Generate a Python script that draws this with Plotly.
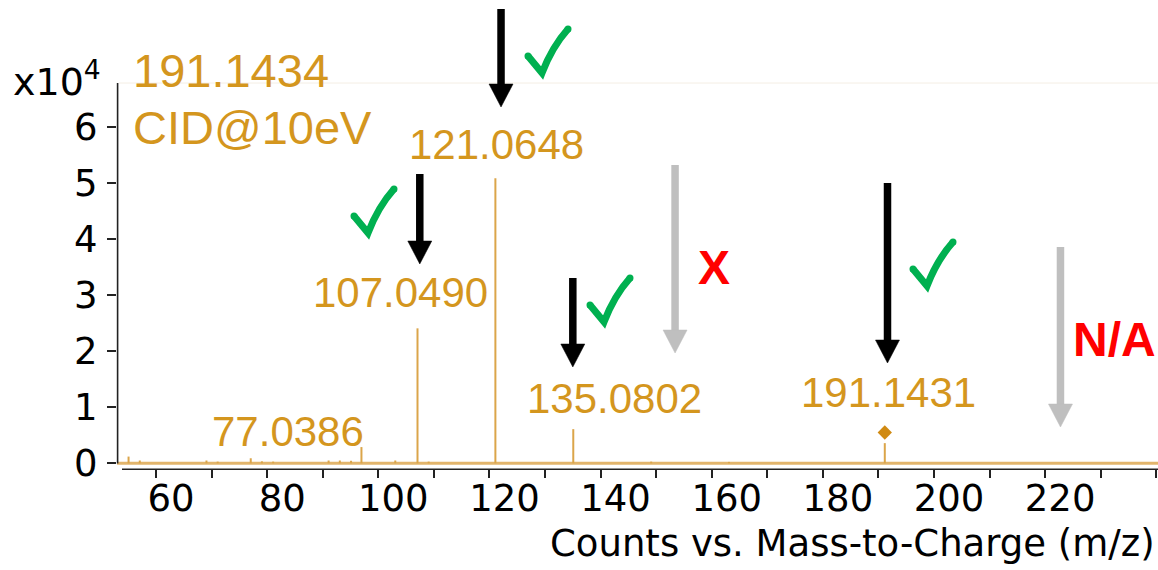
import plotly.graph_objects as go

# Product-ion spectrum of m/z 191.1434 (CID @ 10 eV)
peak_mz = [55.05, 57.07, 69.07, 71.09, 77.0386, 79.05, 81.07, 91.05, 93.07,
           95.09, 96.96, 103.05, 107.0490, 109.06, 121.0648, 135.0802,
           149.10, 163.10, 191.1431]
peak_counts = [1200, 500, 500, 300, 900, 350, 300, 500, 500,
               450, 2900, 500, 24100, 300, 50900, 6100,
               300, 250, 3600]

labeled_mz = [77.0386, 107.0490, 121.0648, 135.0802, 191.1431]
precursor_mz = [191.1431]
precursor_marker_counts = [5500]

x_tick_vals = [60, 80, 100, 120, 140, 160, 180, 200, 220]
x_tick_text = ["60", "80", "100", "120", "140", "160", "180", "200", "220"]
x_minor_vals = list(range(50, 250, 10))
y_tick_vals = [0, 10000, 20000, 30000, 40000, 50000, 60000]
y_tick_text = ["0", "1", "2", "3", "4", "5", "6"]

# fragment annotations: (target m/z, verdict)
arrow_mz = [122.08, 107.46, 135.0, 153.4, 191.63, 222.76]
arrow_kind = ["found", "found", "found", "absent", "found", "absent"]

# ---------------------------------------------------------------- layout
W, H = 1158, 570
ML, MR, MT, MB = 117, 0, 83, 101
PW, PH = W - ML - MR, H - MT - MB
X_RANGE = [52.97, 240.31]
Y_RANGE = [-1018, 67911]

GOLD = "#D4961E"
STICK = "#DBA54A"


def px(xp):
    return (xp - ML) / PW


def py(yp):
    return (H - MB - yp) / PH


def mz_to_paper(m):
    return (m - X_RANGE[0]) / (X_RANGE[1] - X_RANGE[0])


fig = go.Figure()

# spectrum baseline + centroid sticks
xs, ys = [X_RANGE[0], X_RANGE[1], None], [0, 0, None]
fig.add_trace(go.Scatter(x=xs, y=ys, mode="lines",
                         line=dict(color="#E2B56C", width=3),
                         hoverinfo="skip", showlegend=False))
sx, sy = [], []
for m, c in zip(peak_mz, peak_counts):
    sx += [m, m, None]
    sy += [0, c, None]
fig.add_trace(go.Scatter(x=sx, y=sy, mode="lines",
                         line=dict(color=STICK, width=2),
                         hoverinfo="skip", showlegend=False))

# precursor marker
fig.add_trace(go.Scatter(x=precursor_mz, y=precursor_marker_counts, mode="markers",
                         marker=dict(symbol="diamond", size=11, color="#D08A12"),
                         hoverinfo="skip", showlegend=False, cliponaxis=False))

# peak labels, offset (px) from each stick top
label_offsets = [(37.6, 26.4), (-17.0, 36.3), (1.6, 33.3), (41.7, 31.1), (3.7, 51.1)]
for m, (dx, dy) in zip(labeled_mz, label_offsets):
    c = peak_counts[peak_mz.index(m)]
    fig.add_annotation(x=m, y=c, xref="x", yref="y", text=f"{m:.4f}",
                       showarrow=False, xanchor="center", yanchor="middle",
                       xshift=dx, yshift=dy,
                       font=dict(family="Liberation Sans, Arial", size=42, color=GOLD))

shapes = []

# axis lines
shapes.append(dict(type="line", xref="paper", yref="paper",
                   x0=px(117.6), x1=px(117.6), y0=py(83), y1=py(463.5),
                   line=dict(color="#222222", width=1.6)))
shapes.append(dict(type="line", xref="paper", yref="paper",
                   x0=px(122), x1=1, y0=py(469.3), y1=py(469.3),
                   line=dict(color="#222222", width=1.6)))
# faint frame top
shapes.append(dict(type="line", xref="paper", yref="paper",
                   x0=px(119), x1=1, y0=1, y1=1,
                   line=dict(color="#F4EEE4", width=1)))

# arrows: top of shaft and tip (px)
arrow_ends = [(9, 107), (174, 264), (278, 367), (165, 353), (183, 363), (247, 427)]
colors = {"found": "#000000", "absent": "#BFBFBF"}
HEAD_L, HEAD_W = 23, 24
for m, kind, (top, tip) in zip(arrow_mz, arrow_kind, arrow_ends):
    xc = mz_to_paper(m)
    col = colors[kind]
    shapes.append(dict(type="line", xref="paper", yref="paper",
                       x0=xc, x1=xc, y0=py(top), y1=py(tip - HEAD_L + 1),
                       line=dict(color=col, width=7.5)))
    xl = xc - (HEAD_W / 2) / PW
    xr = xc + (HEAD_W / 2) / PW
    path = (f"M {xl},{py(tip - HEAD_L)} L {xr},{py(tip - HEAD_L)} "
            f"L {xc},{py(tip)} Z")
    shapes.append(dict(type="path", xref="paper", yref="paper", path=path,
                       fillcolor=col, line=dict(color=col, width=0.5)))

# check marks (top-left corner, px)
check_corners = [(527, 28), (353, 188), (589, 277), (912, 241)]
for cx, cy in check_corners:
    p0 = (px(cx + 1), py(cy + 28))
    p1 = (px(cx + 15), py(cy + 45))
    pc = (px(cx + 25), py(cy + 19))
    p2 = (px(cx + 41), py(cy + 1))
    path = (f"M {p0[0]},{p0[1]} L {p1[0]},{p1[1]} "
            f"Q {pc[0]},{pc[1]} {p2[0]},{p2[1]}")
    shapes.append(dict(type="path", xref="paper", yref="paper", path=path,
                       line=dict(color="#00B050", width=7)))
    for (qx, qy) in (p0, p2):
        r = 3.5
        shapes.append(dict(type="circle", xref="paper", yref="paper",
                           x0=qx - r / PW, x1=qx + r / PW, y0=qy - r / PH, y1=qy + r / PH,
                           fillcolor="#00B050", line=dict(width=0)))

fig.update_layout(shapes=shapes)

# text blocks
fig.add_annotation(xref="paper", yref="paper", x=px(131), y=py(70), text="191.1434",
                   showarrow=False, xanchor="left", yanchor="middle",
                   font=dict(family="Liberation Sans, Arial", size=47, color=GOLD))
fig.add_annotation(xref="paper", yref="paper", x=px(131), y=py(128), text="CID@10eV",
                   showarrow=False, xanchor="left", yanchor="middle",
                   font=dict(family="Liberation Sans, Arial", size=47, color=GOLD))
fig.add_annotation(xref="paper", yref="paper", x=px(11), y=py(106), text="x10<sup>4</sup>",
                   showarrow=False, xanchor="left", yanchor="bottom",
                   font=dict(family="DejaVu Sans", size=38, color="#000000"))
fig.add_annotation(xref="paper", yref="paper", x=px(714), y=py(267), text="<b>X</b>",
                   showarrow=False, xanchor="center", yanchor="middle",
                   font=dict(family="Liberation Sans, Arial", size=48, color="#FF0000"))
fig.add_annotation(xref="paper", yref="paper", x=px(1071), y=py(339.5), text="<b>N/A</b>",
                   showarrow=False, xanchor="left", yanchor="middle",
                   font=dict(family="Liberation Sans, Arial", size=48, color="#FF0000"))
fig.add_annotation(xref="paper", yref="paper", x=px(1157), y=py(543),
                   text="Counts vs. Mass-to-Charge (m/z)",
                   showarrow=False, xanchor="right", yanchor="middle",
                   font=dict(family="DejaVu Sans", size=37, color="#000000"))

fig.update_xaxes(range=X_RANGE, showgrid=False, zeroline=False, showline=False,
                 tickmode="array", tickvals=x_tick_vals, ticktext=x_tick_text,
                 ticks="outside", ticklen=8, tickwidth=1.6, tickcolor="#222222",
                 ticklabelshift=15, ticklabelstandoff=-11,
                 minor=dict(tickmode="array", tickvals=x_minor_vals, ticks="outside",
                            ticklen=8, tickwidth=1.6, tickcolor="#222222"),
                 tickfont=dict(family="DejaVu Sans", size=37, color="#000000"))
fig.update_yaxes(range=Y_RANGE, showgrid=False, zeroline=False, showline=False,
                 tickmode="array", tickvals=y_tick_vals, ticktext=y_tick_text,
                 ticks="outside", ticklen=9, tickwidth=1.6, tickcolor="#222222",
                 ticklabelstandoff=2,
                 tickfont=dict(family="DejaVu Sans", size=37, color="#000000"))

fig.update_layout(width=W, height=H, margin=dict(l=ML, r=MR, t=MT, b=MB, autoexpand=False),
                  paper_bgcolor="white", plot_bgcolor="white", showlegend=False)

fig.write_html("out.html")
